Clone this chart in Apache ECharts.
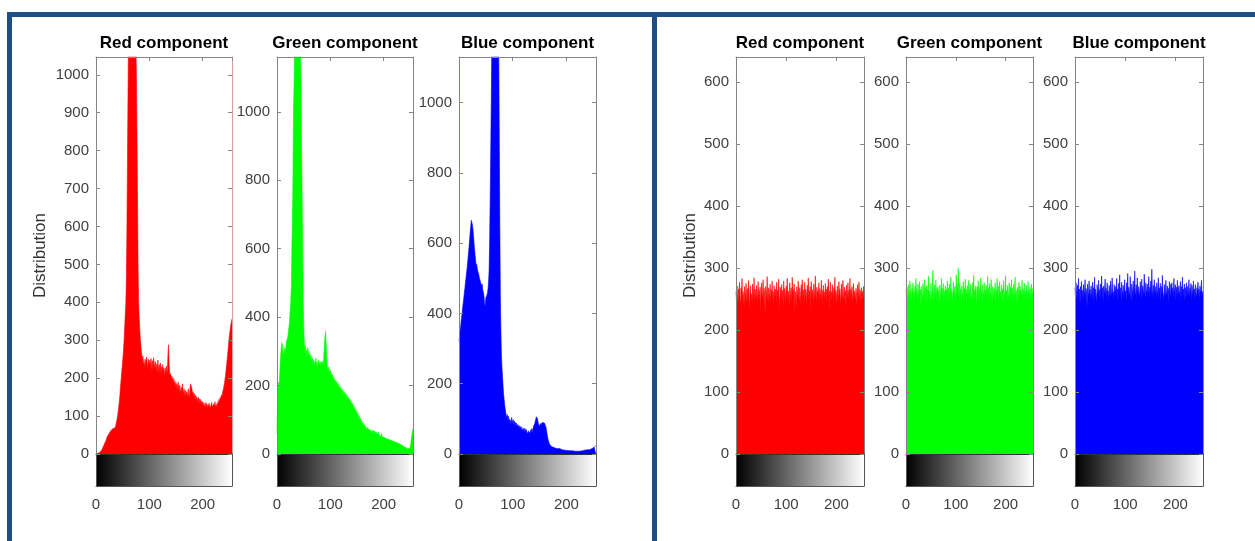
<!DOCTYPE html>
<html><head><meta charset="utf-8">
<script src="https://cdn.jsdelivr.net/npm/echarts@6/dist/echarts.min.js"></script>
<style>html,body{margin:0;padding:0;background:#fff}#c{width:1255px;height:541px}</style>
</head><body><div id="c"></div>
<script>
// ---------- DATA (histogram counts per gray level 0..255) ----------
const titles = ['Red component', 'Green component', 'Blue component'];
const xTickInterval = 100;          // x tick labels 0, 100, 200
const grayRamp = [0, 255];          // colorbar ramp ends

// left panel: original image
const redA = [
0,0,1,1,2,2,3,4,5,7, 9,11,14,17,21,24,27,30,33,36, 42,45,48,46,52,55,50,58,62,60,
64,61,67,70,66,72,69,75,82,88, 96,105,118,130,142,160,178,195,212,228,
245,262,285,310,340,370,400,470,600,780, 950,1100,1200,1300,1400,1450,1500,1480,1420,1350,
1300,1250,1200,1150,1100,1060,980,820,650,480, 400,360,330,305,290,270,262,245,258,236,
242,228,250,232,248,256,238,224,250,242, 235,248,226,252,240,218,246,230,254,238,
226,244,232,215,238,222,248,230,212,236, 224,240,208,230,218,236,212,228,220,205,
226,214,232,210,222,265,288,240,216,205, 212,198,206,190,202,186,198,180,192,176,
188,172,184,168,190,176,164,182,170,160, 176,164,185,170,158,172,162,150,168,156,
164,150,160,172,158,148,166,185,190,178, 170,158,164,150,160,146,156,142,152,140,
148,136,150,138,145,132,144,130,140,128, 138,126,135,140,128,122,136,126,132,120,
130,124,134,122,128,118,130,136,124,128, 120,132,126,138,124,130,122,134,128,140,
132,145,136,150,142,156,148,160,165,172, 180,188,198,210,222,236,250,265,280,296,
310,322,332,342,350,356];
const greenA = [
60,150,210,200,190,230,260,290,310,325, 318,300,290,296,310,305,300,318,330,325,
340,352,366,380,400,425,455,490,610,700, 820,1010,1080,1200,1300,1350,1380,1400,1360,1320,
1280,1250,1220,1200,1180,1100,900,760,620,470, 380,330,300,318,292,305,280,296,310,284,
300,278,292,270,288,265,282,260,276,268, 255,272,262,280,258,268,250,264,275,258,
262,270,256,268,260,272,258,266,290,320, 342,358,330,292,262,250,240,255,246,232,
245,228,238,222,232,215,226,210,220,205, 216,200,212,196,208,192,204,188,198,185,
195,180,190,176,186,172,182,168,178,165, 174,160,170,156,166,152,162,148,158,145,
152,140,148,134,142,128,136,122,130,116, 124,110,118,104,112,98,106,94,100,88,
94,84,90,78,86,74,82,76,80,70, 78,68,74,66,72,64,70,62,68,60,
70,62,68,60,66,58,64,57,62,58, 64,56,60,54,58,52,59,51,56,50,
55,48,53,46,51,45,50,44,49,43, 48,42,46,40,45,39,44,38,42,37,
41,36,40,34,38,33,37,31,35,30, 34,29,32,27,30,25,28,23,26,21,
24,19,21,17,19,15,17,13,14,16, 22,32,44,56,66,74];
const blueA = [
320,335,350,362,378,390,405,420,432,445, 460,472,488,500,515,528,545,560,578,595,
615,635,650,665,660,652,640,620,600,582, 565,550,534,540,528,520,524,510,500,496,
490,486,478,484,470,467,455,440,420,428, 445,448,452,458,470,490,520,600,720,850,
1000,1150,1250,1350,1400,1420,1450,1430,1400,1380, 1300,1280,1250,1220,1150,900,650,450,350,280,
245,220,195,170,155,140,128,118,110,104, 112,98,108,92,100,88,96,84,104,90,
86,98,82,94,80,90,78,88,76,84, 74,82,70,80,68,78,66,76,64,72,
66,74,62,72,60,70,64,68,58,66, 62,70,58,66,62,72,60,68,74,80,
78,86,94,100,106,108,100,92,86,80, 76,84,80,88,82,90,86,94,92,88,
92,84,76,66,56,48,40,35,30,27, 25,23,22,20,21,19,20,18,19,17,
18,16,17,15,16,14,15,16,14,15, 13,14,12,13,14,12,13,11,12,13,
11,12,10,11,12,10,11,9,10,11, 10,9,11,10,9,10,8,9,10,9,
8,9,10,8,9,8,10,9,8,9, 9,8,10,9,11,10,9,11,10,12,
11,12,13,12,14,13,15,14,16,17, 18,19,20,21,22,24];

// right panel: encrypted image (flat histograms)
const redB = [
262,248,271,255,243,266,259,277,251,240,268,257,283,246,262,254,
238,270,261,249,275,256,244,267,252,280,259,228,263,271,250,258,
245,274,262,253,284,241,266,257,249,272,260,243,278,255,264,247,
269,233,261,276,252,258,281,245,267,254,226,270,263,250,286,257,
244,268,260,251,274,242,265,256,279,248,262,237,271,259,253,266,
245,277,258,264,250,282,255,231,269,261,247,273,256,264,238,279,
252,267,260,244,271,257,283,249,263,255,240,276,261,252,268,243,
285,258,266,250,274,224,262,257,236,270,264,251,279,255,247,268,
260,242,273,256,281,249,265,258,244,277,253,266,260,239,272,255,
284,248,263,257,270,229,278,252,265,259,241,274,261,250,287,256,
246,269,258,263,251,276,242,267,259,254,280,248,264,238,272,257,
261,249,275,253,266,244,270,258,282,251,263,232,277,256,262,248,
273,259,245,268,254,285,250,264,257,241,271,260,247,278,255,266,
252,243,274,261,249,280,258,245,269,256,263,237,272,259,251,276,
248,264,257,283,246,266,253,270,242,261,275,250,263,256,248,267,
258,240,273,262,251,277,247,265,259,244,268,255,262,249,270,258];
const greenB = [
266,252,270,258,245,273,261,249,279,255,264,241,268,257,276,250,
262,247,271,256,283,252,266,243,274,260,251,278,257,265,239,270,
259,248,275,263,254,281,246,268,258,272,244,266,255,287,251,263,
257,242,276,261,250,269,296,258,247,273,262,253,280,245,267,259,
270,255,264,236,272,258,249,283,261,267,252,275,244,263,258,271,
248,266,257,279,253,268,241,274,262,256,285,250,265,259,243,277,
261,252,270,246,264,289,255,273,258,299,262,249,276,257,266,240,
271,260,253,278,247,268,259,282,254,265,243,272,261,256,280,251,
267,245,274,259,262,250,277,256,288,248,266,257,271,238,263,270,
254,279,261,247,268,258,284,252,265,243,273,260,256,277,249,266,
259,272,251,264,286,255,268,246,275,262,253,281,257,244,270,263,
250,267,258,276,242,265,259,283,254,271,247,263,278,256,262,249,
273,257,266,240,279,261,252,268,287,255,264,246,272,259,251,276,
262,248,270,257,281,253,267,244,274,260,256,285,250,265,258,242,
269,255,263,277,249,271,258,264,252,280,246,267,261,254,275,257,
263,250,272,259,246,278,255,266,253,270,260,248,274,262,257,268];
const blueB = [
268,254,276,261,249,272,258,283,252,266,243,270,259,278,255,264,
247,273,262,256,281,250,267,259,236,274,261,253,279,257,265,248,
271,260,254,277,246,268,263,285,251,266,258,242,273,262,255,280,
257,265,249,274,261,287,253,268,246,271,259,264,282,255,267,250,
276,258,263,245,272,260,254,279,266,251,284,257,262,248,273,265,
253,270,259,283,247,266,261,275,256,289,252,268,244,277,263,258,
272,250,265,281,257,263,248,276,260,291,255,269,262,253,286,259,
246,274,266,258,279,252,268,295,261,256,273,249,284,263,257,270,
260,253,278,264,248,282,258,271,255,267,290,262,251,276,265,259,
274,257,263,286,250,269,261,279,254,298,266,256,272,248,281,263,
258,270,252,276,264,259,284,251,268,262,275,246,270,257,288,262,
265,249,273,260,256,280,263,254,271,258,267,245,278,261,253,274,
262,276,255,268,250,283,259,266,273,248,269,257,280,254,264,271,
256,263,278,249,270,258,285,252,266,261,274,247,268,259,276,253,
270,255,264,281,251,267,260,275,246,272,263,258,279,254,266,250,
273,259,252,268,262,277,255,266,249,271,260,264,280,253,262,257];

// ---------- LAYOUT ----------
const FONT = 'Liberation Sans';
const plots = [
  {data: redA,   color: '#ff0000', left: 96,   width: 136, max: 1047, interval: 100, title: titles[0], yName: 'Distribution', nameGap: 47, rightLine: '#e29a9a'},
  {data: greenA, color: '#00ff00', left: 277,  width: 136, max: 1160, interval: 200, title: titles[1]},
  {data: blueA,  color: '#0000ff', left: 459,  width: 137, max: 1130, interval: 200, title: titles[2], leftLine: '#7b7bd6'},
  {data: redB,   color: '#ff0000', left: 736,  width: 128, max: 640,  interval: 100, title: titles[0], yName: 'Distribution', nameGap: 37},
  {data: greenB, color: '#00ff00', left: 906,  width: 127, max: 640,  interval: 100, title: titles[1]},
  {data: blueB,  color: '#0000ff', left: 1075, width: 128, max: 640,  interval: 100, title: titles[2]}
];
const TOP = 57, H = 397, CB_H = 32;
const BOX = '#858585';
const LABEL = {fontFamily: FONT, fontSize: 15, color: '#404040'};

const grid = [], xAxis = [], yAxis = [], series = [], graphic = [];
const noSplit = {show: false};

plots.forEach(p => {
  const gMain = grid.length;
  grid.push({left: p.left, top: TOP, width: p.width, height: H});
  const gBar = grid.length;
  grid.push({left: p.left, top: TOP + H, width: p.width, height: CB_H});

  // main plot axes
  const xb = xAxis.length;
  xAxis.push({gridIndex: gMain, type: 'value', min: 0, max: 255, position: 'bottom', z: 5,
    axisLine: {show: true, onZero: false, lineStyle: {color: '#333', width: 1}},
    axisTick: {show: false}, axisLabel: {show: false}, splitLine: noSplit});
  xAxis.push({gridIndex: gMain, type: 'value', min: 0, max: 255, interval: xTickInterval, position: 'top', z: 5,
    axisLine: {show: true, onZero: false, lineStyle: {color: BOX, width: 1}},
    axisTick: {show: true, inside: true, length: 4, lineStyle: {color: BOX}},
    axisLabel: {show: false}, splitLine: noSplit});
  const yl = yAxis.length;
  const yLeft = {gridIndex: gMain, type: 'value', min: 0, max: p.max, interval: p.interval, position: 'left', z: 5,
    axisLine: {show: true, onZero: false, lineStyle: {color: p.leftLine || BOX, width: 1}},
    axisTick: {show: true, inside: true, length: 4, lineStyle: {color: BOX}},
    axisLabel: Object.assign({margin: 7, formatter: v => (Math.abs(v % p.interval) < 1e-6 ? String(v) : '')}, LABEL),
    splitLine: noSplit};
  if (p.yName) {
    Object.assign(yLeft, {name: p.yName, nameLocation: 'middle', nameGap: p.nameGap,
      nameTextStyle: {fontFamily: FONT, fontSize: 17, color: '#333'}});
  }
  yAxis.push(yLeft);
  yAxis.push({gridIndex: gMain, type: 'value', min: 0, max: p.max, interval: p.interval, position: 'right', z: 5,
    axisLine: {show: true, onZero: false, lineStyle: {color: p.rightLine || BOX, width: 1}},
    axisTick: {show: true, inside: true, length: 4, lineStyle: {color: BOX}},
    axisLabel: {show: false}, splitLine: noSplit});

  // colorbar axes
  const xc = xAxis.length;
  xAxis.push({gridIndex: gBar, type: 'value', min: 0, max: 255, interval: xTickInterval, position: 'bottom', z: 5,
    axisLine: {show: true, onZero: false, lineStyle: {color: '#555', width: 1}},
    axisTick: {show: false},
    axisLabel: Object.assign({margin: 11, formatter: v => (v % xTickInterval === 0 ? String(v) : '')}, LABEL),
    splitLine: noSplit});
  const yc = yAxis.length;
  yAxis.push({gridIndex: gBar, type: 'value', min: 0, max: 1, position: 'left', z: 5,
    axisLine: {show: true, onZero: false, lineStyle: {color: '#555', width: 1}},
    axisTick: {show: false}, axisLabel: {show: false}, splitLine: noSplit});
  yAxis.push({gridIndex: gBar, type: 'value', min: 0, max: 1, position: 'right', z: 5,
    axisLine: {show: true, onZero: false, lineStyle: {color: '#555', width: 1}},
    axisTick: {show: false}, axisLabel: {show: false}, splitLine: noSplit});

  // histogram
  series.push({type: 'line', xAxisIndex: xb, yAxisIndex: yl, symbol: 'none', clip: true, silent: true,
    data: p.data.map((v, k) => [k, v]),
    lineStyle: {color: p.color, width: 0.6},
    areaStyle: {color: p.color, opacity: 1}});
  // gray colorbar
  series.push({type: 'line', xAxisIndex: xc, yAxisIndex: yc, symbol: 'none', silent: true,
    data: grayRamp.map(g => [g, 1]),
    lineStyle: {width: 0},
    areaStyle: {opacity: 1, color: new echarts.graphic.LinearGradient(0, 0, 1, 0,
      [{offset: 0, color: '#000000'}, {offset: 1, color: '#ffffff'}])}});

  // subplot title
  graphic.push({type: 'text', x: p.left + p.width / 2, y: 43, z: 10,
    style: {text: p.title, align: 'center', verticalAlign: 'middle',
      font: 'bold 17px "' + FONT + '"', fill: '#000'}});
});

// panel frames
graphic.push({type: 'rect', z: 20, shape: {x: 9.5, y: 14.5, width: 645, height: 640},
  style: {fill: 'none', stroke: '#1f4e86', lineWidth: 5}});
graphic.push({type: 'rect', z: 20, shape: {x: 654.5, y: 14.5, width: 700, height: 640},
  style: {fill: 'none', stroke: '#1f4e86', lineWidth: 5}});

const chart = echarts.init(document.getElementById('c'), null, {renderer: 'canvas'});
chart.setOption({animation: false, backgroundColor: '#fff', grid, xAxis, yAxis, series, graphic});
</script>
</body></html>
